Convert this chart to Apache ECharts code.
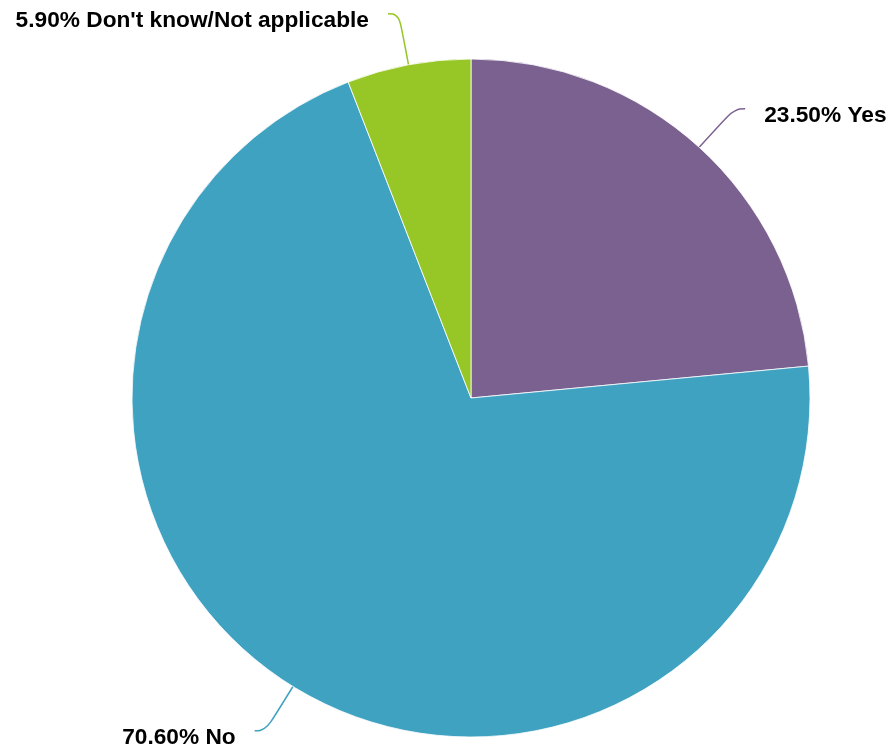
<!DOCTYPE html>
<html>
<head>
<meta charset="utf-8">
<script src="https://cdn.jsdelivr.net/npm/echarts@6/dist/echarts.min.js"></script>
<style>html,body{margin:0;padding:0;background:#fff}#c{width:891px;height:751px}</style>
</head>
<body>
<div id="c"></div>
<script>
var categories = ["Yes", "No", "Don't know/Not applicable"];
var values = [23.5, 70.6, 5.9];
var colors = ["#7b6190", "#3fa2c1", "#97c627"];

var chart = echarts.init(document.getElementById('c'), null, {renderer: 'canvas'});
var data = categories.map(function (c, i) {
  return {name: c, value: values[i], itemStyle: {color: colors[i]}, labelLine: {lineStyle: {color: colors[i]}}};
});
chart.setOption({
  animation: false,
  series: [{
    type: 'pie',
    center: [471, 398],
    radius: [0, 339],
    startAngle: 90,
    clockwise: true,
    data: data,
    itemStyle: {borderColor: '#fff', borderWidth: 0.8},
    label: {
      show: true,
      formatter: function (p) { return p.value.toFixed(2) + '% ' + p.name; },
      fontFamily: 'Liberation Sans, Arial, sans-serif',
      fontWeight: 'bold',
      fontSize: 22.7,
      color: '#000',
      overflow: 'none',
      distanceToLabelLine: 19
    },
    labelLayout: {dy: 7},
    labelLine: {show: true, length: 52, length2: 11, smooth: 0.5, lineStyle: {width: 1.5}}
  }]
});
</script>
</body>
</html>
